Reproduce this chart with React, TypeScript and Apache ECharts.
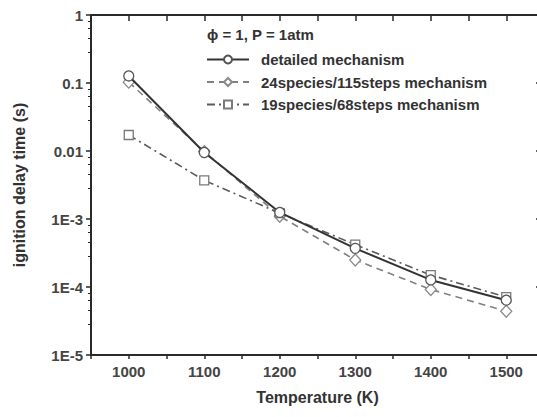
import React, { useEffect, useRef } from "react";
import * as echarts from "echarts";

const temperatures = [1000, 1100, 1200, 1300, 1400, 1500];
const detailed = [0.127, 0.0095, 0.00125, 0.00037, 0.000127, 0.000064];
const reduced24 = [0.103, 0.0098, 0.0011, 0.00025, 0.000092, 0.000044];
const reduced19 = [0.0172, 0.0037, 0.00122, 0.00042, 0.00015, 0.000071];
const yTickLabels: Record<string, string> = {
  "1": "1",
  "0.1": "0.1",
  "0.01": "0.01",
  "0.001": "1E-3",
  "0.0001": "1E-4",
  "0.00001": "1E-5",
};
const seriesNames = [
  "detailed mechanism",
  "24species/115steps mechanism",
  "19species/68steps mechanism",
];
const conditionText = "\u03D5 = 1, P = 1atm";

const FONT = "'Liberation Sans', Arial, sans-serif";
const AXIS = "#2a2a2a";

function yLabel(v: number): string {
  for (const k of Object.keys(yTickLabels)) {
    if (Math.abs(Math.log10(v) - Math.log10(parseFloat(k))) < 1e-6) return yTickLabels[k];
  }
  return "";
}

export default function App() {
  const ref = useRef<HTMLDivElement>(null);
  useEffect(() => {
    if (!ref.current) return;
    const chart = echarts.init(ref.current, undefined, { renderer: "svg" });
    const pair = (arr: number[]) => temperatures.map((t, i) => [t, arr[i]]);
    const commonX = {
      type: "value" as const,
      min: 950,
      max: 1550,
      interval: 50,
      splitLine: { show: false },
    };
    const commonY = {
      type: "log" as const,
      logBase: 10,
      min: 0.00001,
      max: 1,
      splitNumber: 5,
      splitLine: { show: false },
    };
    chart.setOption({
      animation: false,
      backgroundColor: "#ffffff",
      title: {
        text: conditionText,
        left: 207,
        top: 27,
        padding: 0,
        textStyle: { fontFamily: FONT, fontSize: 15, fontWeight: "bold", color: "#333" },
      },
      legend: {
        orient: "vertical",
        left: 206,
        top: 52,
        padding: 0,
        itemWidth: 42,
        itemHeight: 10,
        itemGap: 7.5,
        data: seriesNames,
        textStyle: {
          fontFamily: FONT,
          fontSize: 15,
          fontWeight: "bold",
          color: "#333",
          padding: [0, 0, 0, 7],
        },
      },
      grid: { left: 91, top: 15, right: 6, bottom: 62, containLabel: false },
      xAxis: [
        {
          ...commonX,
          position: "bottom",
          name: "Temperature (K)",
          nameLocation: "middle",
          nameGap: 34,
          nameTextStyle: { fontFamily: FONT, fontSize: 16, fontWeight: "bold", color: "#333" },
          axisLine: { show: true, onZero: false, lineStyle: { color: AXIS, width: 2 } },
          axisTick: { show: true, inside: false, length: 4, lineStyle: { color: AXIS, width: 1.5 } },
          axisLabel: {
            margin: 9,
            fontFamily: FONT,
            fontSize: 15,
            fontWeight: "bold",
            color: "#444",
            formatter: (v: number) => (v % 100 === 0 && v >= 1000 && v <= 1500 ? String(v) : ""),
          },
        },
        {
          ...commonX,
          position: "top",
          axisLine: { show: true, onZero: false, lineStyle: { color: AXIS, width: 2 } },
          axisTick: { show: true, inside: true, length: 6, lineStyle: { color: AXIS, width: 1.5 } },
          axisLabel: { show: false },
        },
      ],
      yAxis: [
        {
          ...commonY,
          position: "left",
          name: "ignition delay time (s)",
          nameLocation: "middle",
          nameGap: 64,
          nameRotate: 90,
          nameTextStyle: { fontFamily: FONT, fontSize: 16, fontWeight: "bold", color: "#333" },
          axisLine: { show: true, onZero: false, lineStyle: { color: AXIS, width: 2 } },
          axisTick: { show: true, inside: false, length: 5, lineStyle: { color: AXIS, width: 1.5 } },
          minorTick: { show: true, splitNumber: 5, length: 3, lineStyle: { color: AXIS, width: 1 } },
          axisLabel: {
            margin: 8,
            fontFamily: FONT,
            fontSize: 15,
            fontWeight: "bold",
            color: "#444",
            formatter: (v: number) => yLabel(v),
          },
        },
        {
          ...commonY,
          position: "right",
          axisLine: { show: true, onZero: false, lineStyle: { color: AXIS, width: 2 } },
          axisTick: { show: true, inside: true, length: 8, lineStyle: { color: AXIS, width: 1.5 } },
          axisLabel: { show: false },
        },
      ],
      series: [
        {
          name: seriesNames[1],
          type: "line",
          data: pair(reduced24),
          symbol: "diamond",
          symbolSize: [11, 12],
          lineStyle: { color: "#808080", width: 1.6, type: [7, 5] },
          itemStyle: { color: "#ffffff", borderColor: "#8a8a8a", borderWidth: 1.3 },
          z: 2,
        },
        {
          name: seriesNames[2],
          type: "line",
          data: pair(reduced19),
          symbol: "rect",
          symbolSize: 9,
          lineStyle: { color: "#5a5a5a", width: 1.6, type: [8, 4, 2, 4] },
          itemStyle: { color: "#ffffff", borderColor: "#7a7a7a", borderWidth: 1.3 },
          z: 3,
        },
        {
          name: seriesNames[0],
          type: "line",
          data: pair(detailed),
          symbol: "circle",
          symbolSize: 10,
          lineStyle: { color: "#333333", width: 2 },
          itemStyle: { color: "#ffffff", borderColor: "#555555", borderWidth: 1.3 },
          z: 4,
        },
      ],
    });
    return () => chart.dispose();
  }, []);
  return (
    <div
      style={{
        position: "fixed",
        left: 0,
        top: 0,
        width: 537,
        height: 417,
        overflow: "hidden",
        background: "#fff",
      }}
    >
      <div ref={ref} style={{ width: 550, height: 417 }} />
    </div>
  );
}
